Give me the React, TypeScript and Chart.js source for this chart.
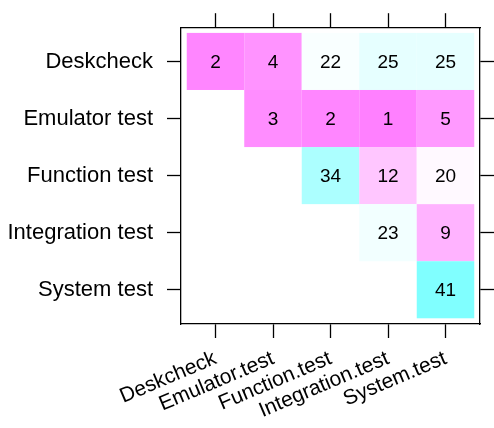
import React, { useEffect, useRef } from "react";
import { Chart, registerables } from "chart.js";

Chart.register(...registerables);

const rowLabels = ["Deskcheck", "Emulator test", "Function test", "Integration test", "System test"];
const colLabels = ["Deskcheck", "Emulator.test", "Function.test", "Integration.test", "System.test"];

const deskcheckRow = [2, 4, 22, 25, 25];
const emulatorRow = [null, 3, 2, 1, 5];
const functionRow = [null, null, 34, 12, 20];
const integrationRow = [null, null, null, 23, 9];
const systemRow = [null, null, null, null, 41];

const matrix: (number | null)[][] = [deskcheckRow, emulatorRow, functionRow, integrationRow, systemRow];

const valueMin = 1;
const valueMax = 41;

function cellColor(v: number): string {
  const t = (v - valueMin) / (valueMax - valueMin);
  if (t <= 0.5) {
    const s = t / 0.5;
    const g = Math.round(128 + 127 * s);
    return `rgb(255,${g},255)`;
  }
  const s = (t - 0.5) / 0.5;
  const r = Math.round(255 - 127 * s);
  return `rgb(${r},255,255)`;
}

const FONT = "'Liberation Sans', Arial, Helvetica, sans-serif";
const LABEL_SIZE = 22;
const XLABEL_SIZE = 21;
const CELL_SIZE = 19;

const points: { x: number; y: number; v: number }[] = [];
matrix.forEach((row, ri) =>
  row.forEach((v, ci) => {
    if (v !== null) points.push({ x: ci + 1, y: ri + 1, v });
  })
);

const fixedTicks = (scale: any) => {
  scale.ticks = [1, 2, 3, 4, 5].map((value) => ({ value }));
};

const heatPlugin = {
  id: "heatCells",
  beforeDatasetsDraw(chart: any) {
    const { ctx, chartArea } = chart;
    const xs = chart.scales.x;
    const ys = chart.scales.y;
    ctx.save();
    ctx.beginPath();
    ctx.rect(chartArea.left, chartArea.top, chartArea.right - chartArea.left, chartArea.bottom - chartArea.top);
    ctx.clip();
    const data = chart.data.datasets[0].data as { x: number; y: number; v: number }[];
    data.forEach((p) => {
      const x0 = xs.getPixelForValue(p.x - 0.5);
      const x1 = xs.getPixelForValue(p.x + 0.5);
      const y0 = ys.getPixelForValue(p.y - 0.5);
      const y1 = ys.getPixelForValue(p.y + 0.5);
      ctx.fillStyle = cellColor(p.v);
      ctx.fillRect(Math.min(x0, x1), Math.min(y0, y1), Math.abs(x1 - x0), Math.abs(y1 - y0));
    });
    ctx.fillStyle = "#000";
    ctx.font = `${CELL_SIZE}px ${FONT}`;
    ctx.textAlign = "center";
    ctx.textBaseline = "middle";
    data.forEach((p) => {
      ctx.fillText(String(p.v), xs.getPixelForValue(p.x), ys.getPixelForValue(p.y) + 1);
    });
    ctx.restore();
  },
};

const axisCommon = (tickLen: number) => ({
  type: "linear" as const,
  min: 0.4,
  max: 5.6,
  afterBuildTicks: fixedTicks,
  grid: {
    drawOnChartArea: false,
    drawTicks: true,
    tickLength: tickLen,
    tickColor: "#000",
    tickWidth: 1.3,
  },
  border: { display: true, color: "#000", width: 1.3 },
});

export default function App() {
  const ref = useRef<HTMLCanvasElement>(null);
  useEffect(() => {
    if (!ref.current) return;
    const chart = new Chart(ref.current, {
      type: "scatter",
      data: {
        datasets: [
          {
            data: points as any,
            pointRadius: 0,
            pointHoverRadius: 0,
            xAxisID: "x",
            yAxisID: "y",
          },
        ],
      },
      options: {
        animation: false,
        responsive: false,
        events: [],
        layout: { padding: 0 },
        plugins: { legend: { display: false }, tooltip: { enabled: false } },
        scales: {
          x: {
            ...axisCommon(14),
            position: "bottom",
            ticks: {
              autoSkip: false,
              minRotation: 23,
              maxRotation: 23,
              padding: 8,
              color: "#000",
              font: { family: FONT, size: XLABEL_SIZE },
              callback: (v: any) => colLabels[Number(v) - 1] ?? "",
            },
            afterFit: (s: any) => {
              s.height = 104;
            },
          },
          x2: {
            ...axisCommon(14),
            position: "top",
            ticks: { display: false },
            afterFit: (s: any) => {
              s.height = 25;
            },
          },
          y: {
            ...axisCommon(14),
            position: "left",
            reverse: true,
            ticks: {
              autoSkip: false,
              padding: 14,
              color: "#000",
              font: { family: FONT, size: LABEL_SIZE },
              callback: (v: any) => rowLabels[Number(v) - 1] ?? "",
            },
            afterFit: (s: any) => {
              s.width = 181;
            },
          },
          y2: {
            ...axisCommon(14),
            position: "right",
            reverse: true,
            ticks: { display: false },
            afterFit: (s: any) => {
              s.width = 14;
            },
          },
        },
      } as any,
      plugins: [heatPlugin],
    });
    return () => chart.destroy();
  }, []);
  return (
    <div style={{ position: "fixed", left: 0, top: 0, width: 494, height: 428, background: "#fff" }}>
      <canvas ref={ref} width={494} height={428} style={{ width: 494, height: 428 }} />
    </div>
  );
}
